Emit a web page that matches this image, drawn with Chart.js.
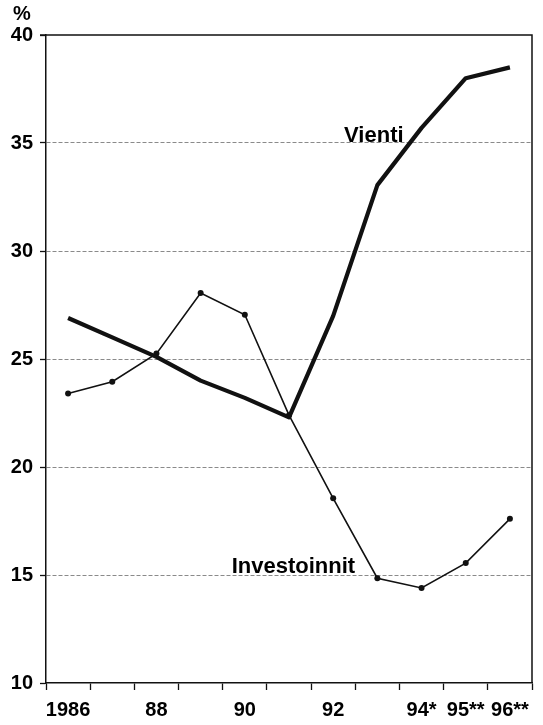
<!DOCTYPE html>
<html>
<head>
<meta charset="utf-8">
<script src="https://cdn.jsdelivr.net/npm/chart.js@4"></script>
<style>
  html, body { margin: 0; padding: 0; background: #fff; }
  canvas { display: block; }
</style>
</head>
<body>
<canvas id="chart" width="543" height="725"></canvas>
<script>
// ================= Data =================
const years = ["1986", "1987", "1988", "1989", "1990", "1991", "1992", "1993", "1994", "1995", "1996"];
const yearLabels = ["1986", "", "88", "", "90", "", "92", "", "94*", "95**", "96**"];
const vienti = [26.9, 26.0, 25.1, 24.0, 23.2, 22.3, 27.0, 33.05, 35.7, 38.0, 38.5];
const investoinnit = [23.4, 23.95, 25.25, 28.05, 27.05, 22.4, 18.55, 14.85, 14.4, 15.55, 17.6];
const yTicks = [10, 15, 20, 25, 30, 35, 40];

Chart.defaults.font.family = "'Liberation Sans', Arial, sans-serif";
Chart.defaults.color = "#000";

// ================= Frame + labels =================
const framePlugin = {
    id: "frame",
    afterDraw(chart) {
        const { ctx, chartArea: a, scales } = chart;
        ctx.save();
        ctx.strokeStyle = "#111";
        ctx.lineWidth = 1.5;
        ctx.beginPath();
        ctx.moveTo(a.left - 6, a.top);
        ctx.lineTo(a.right, a.top);
        ctx.lineTo(a.right, a.bottom);
        ctx.stroke();

        ctx.fillStyle = "#000";
        ctx.font = "bold 20px 'Liberation Sans'";
        ctx.textAlign = "left";
        ctx.textBaseline = "alphabetic";
        ctx.fillText("%", 13, 20);

        ctx.font = "bold 22px 'Liberation Sans'";
        ctx.textAlign = "center";
        ctx.fillText("Vienti", scales.x.getPixelForValue(6.92), scales.y.getPixelForValue(35.06));
        ctx.fillText("Investoinnit", scales.x.getPixelForValue(5.1), scales.y.getPixelForValue(15.09));
        ctx.restore();
    }
};

// ================= Chart =================
const ctx = document.getElementById("chart").getContext("2d");

new Chart(ctx, {
    type: "line",
    data: {
        labels: years,
        datasets: [{
            label: "Vienti",
            data: vienti,
            borderColor: "#111",
            borderWidth: 4.2,
            pointRadius: 0,
            borderJoinStyle: "round",
            tension: 0
        }, {
            label: "Investoinnit",
            data: investoinnit,
            borderColor: "#111",
            borderWidth: 1.6,
            pointRadius: 3,
            pointBackgroundColor: "#111",
            pointBorderWidth: 0,
            tension: 0
        }]
    },
    options: {
        responsive: false,
        animation: false,
        layout: { padding: { top: 35, right: 11, bottom: 0, left: 0 } },
        plugins: {
            legend: { display: false },
            tooltip: { enabled: false }
        },
        scales: {
            x: {
                type: "category",
                offset: true,
                grid: {
                    offset: true,
                    drawOnChartArea: false,
                    tickLength: 7,
                    tickColor: "#111",
                    tickWidth: 1.3
                },
                border: { color: "#111", width: 1.5 },
                ticks: {
                    autoSkip: false,
                    maxRotation: 0,
                    padding: 8,
                    font: { size: 20, weight: "bold" },
                    callback: (v, i) => yearLabels[i]
                },
                afterFit: s => { s.height = 42; }
            },
            y: {
                min: 10,
                max: 40,
                afterBuildTicks: s => { s.ticks = yTicks.map(v => ({ value: v })); },
                grid: {
                    color: c => (c.tick && (c.tick.value === 10 || c.tick.value === 40)) ? "rgba(0,0,0,0)" : "#8a8a8a",
                    lineWidth: 1,
                    tickLength: 6,
                    tickColor: "#111",
                    tickWidth: 1.3,
                    tickBorderDash: []
                },
                border: { color: "#111", width: 1.5, dash: [4, 2] },
                ticks: {
                    padding: 7,
                    font: { size: 20, weight: "bold" }
                },
                afterFit: s => { s.width = 46; }
            }
        }
    },
    plugins: [framePlugin]
});
</script>
</body>
</html>
